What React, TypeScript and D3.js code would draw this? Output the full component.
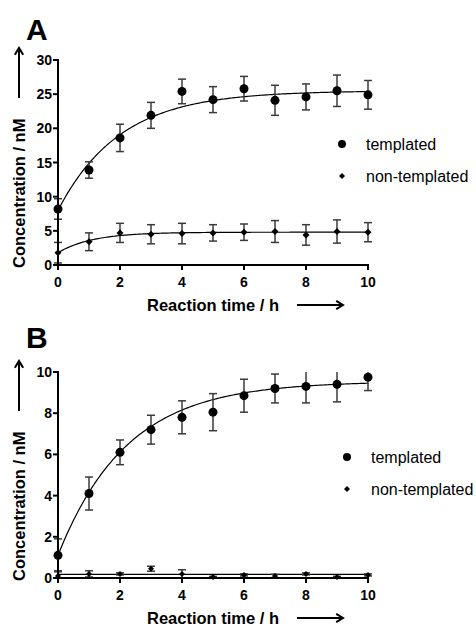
import React from "react";
import * as d3 from "d3";

// reaction time (h)
const times = [0, 1, 2, 3, 4, 5, 6, 7, 8, 9, 10];

// panel A
const templatedA = [8.2, 13.9, 18.6, 21.9, 25.4, 24.2, 25.8, 24.1, 24.6, 25.5, 24.9];
const templatedAErr = [1.5, 1.2, 2.0, 1.9, 1.8, 1.9, 1.8, 2.2, 1.9, 2.3, 2.1];
const nonTemplatedA = [1.8, 3.4, 4.7, 4.5, 4.6, 4.7, 4.8, 4.9, 4.4, 4.9, 4.8];
const nonTemplatedAErr = [1.5, 1.3, 1.4, 1.4, 1.5, 1.2, 1.2, 1.6, 1.5, 1.7, 1.4];

// panel B
const templatedB = [1.1, 4.1, 6.1, 7.2, 7.8, 8.05, 8.85, 9.2, 9.3, 9.4, 9.75];
const templatedBErr = [0.8, 0.8, 0.6, 0.7, 0.8, 0.9, 0.8, 0.7, 0.8, 0.85, 0.65];
const nonTemplatedB = [0.1, 0.2, 0.2, 0.45, 0.2, 0.05, 0.15, 0.1, 0.2, 0.05, 0.15];
const nonTemplatedBErr = [0.25, 0.15, 0.05, 0.12, 0.2, 0.03, 0.05, 0.08, 0.05, 0.03, 0.05];

// one-phase association fits: [y0, plateau, k]
const fitTemplatedA = [8.0, 25.5, 0.5];
const fitNonTemplatedA = [1.8, 4.8, 0.9];
const fitTemplatedB = [1.1, 9.55, 0.45];
const fitNonTemplatedB = [0.18, 0.18, 1];

const xTicks = [0, 2, 4, 6, 8, 10];
const yTicksA = [0, 5, 10, 15, 20, 25, 30];
const yTicksB = [0, 2, 4, 6, 8, 10];
const legendLabels = ["templated", "non-templated"];

const FONT = "Liberation Sans, Arial, Helvetica, sans-serif";

type PanelProps = {
  letter: string;
  letterY: number;
  top: number;
  bottom: number;
  yMax: number;
  yTicks: number[];
  series: { vals: number[]; err: number[]; fit: number[]; kind: string }[];
  legendX: number;
  legendY: number;
  diamond: number;
};

const Arrow = ({ x1, y1, x2, y2 }) => {
  const ang = Math.atan2(y2 - y1, x2 - x1);
  const h = 8;
  const a1 = ang + Math.PI - 0.55;
  const a2 = ang + Math.PI + 0.55;
  return (
    <g stroke="#000" strokeWidth={2} fill="none">
      <line x1={x1} y1={y1} x2={x2} y2={y2} />
      <polyline
        points={`${x2 + h * Math.cos(a1)},${y2 + h * Math.sin(a1)} ${x2},${y2} ${x2 + h * Math.cos(a2)},${y2 + h * Math.sin(a2)}`}
      />
    </g>
  );
};

const Panel = ({ letter, letterY, top, bottom, yMax, yTicks, series, legendX, legendY, diamond }: PanelProps) => {
  const x = d3.scaleLinear().domain([0, 10]).range([58, 368]);
  const y = d3.scaleLinear().domain([0, yMax]).range([bottom, top]);
  const clip = (v) => Math.max(0, Math.min(yMax, v));
  const fitLine = (p) =>
    d3
      .line<number>()
      .x((t) => x(t))
      .y((t) => y(p[0] + (p[1] - p[0]) * (1 - Math.exp(-p[2] * t))))(d3.range(0, 10.001, 0.05));
  const diamondPath = (cx, cy, s) => `M${cx},${cy - s}L${cx + s},${cy}L${cx},${cy + s}L${cx - s},${cy}Z`;

  return (
    <g>
      <text x={26} y={letterY} fontFamily={FONT} fontWeight="bold" fontSize={30}>
        {letter}
      </text>

      {series.map((s, si) => (
        <g key={si}>
          <path d={fitLine(s.fit)} fill="none" stroke="#000" strokeWidth={1.2} />
          {times.map((t, i) => {
            const lo = y(clip(s.vals[i] - s.err[i]));
            const hi = y(clip(s.vals[i] + s.err[i]));
            return (
              <g key={i} stroke="#3a3a3a" strokeWidth={1.5}>
                <line x1={x(t)} x2={x(t)} y1={lo} y2={hi} />
                {s.vals[i] + s.err[i] <= yMax && <line x1={x(t) - 4} x2={x(t) + 4} y1={hi} y2={hi} />}
                <line x1={x(t) - 4} x2={x(t) + 4} y1={lo} y2={lo} />
              </g>
            );
          })}
          {times.map((t, i) =>
            s.kind === "circle" ? (
              <circle key={"m" + i} cx={x(t)} cy={y(s.vals[i])} r={4.5} fill="#000" />
            ) : (
              <path key={"m" + i} d={diamondPath(x(t), y(s.vals[i]), diamond)} fill="#000" />
            )
          )}
        </g>
      ))}

      {/* axes */}
      <g stroke="#000" strokeWidth={2}>
        <line x1={x(0)} x2={x(0)} y1={y(yMax) - 1} y2={y(0) + 1} />
        <line x1={x(0) - 1} x2={x(10) + 1} y1={y(0)} y2={y(0)} />
        {yTicks.map((v) => (
          <line key={"yt" + v} x1={x(0) - 5} x2={x(0)} y1={y(v)} y2={y(v)} />
        ))}
        {xTicks.map((v) => (
          <line key={"xt" + v} x1={x(v)} x2={x(v)} y1={y(0)} y2={y(0) + 5} />
        ))}
      </g>
      {yTicks.map((v) => (
        <text key={"yl" + v} x={52} y={y(v) + 5} textAnchor="end" fontFamily={FONT} fontWeight="bold" fontSize={14}>
          {v}
        </text>
      ))}
      {xTicks.map((v) => (
        <text key={"xl" + v} x={x(v)} y={y(0) + 22} textAnchor="middle" fontFamily={FONT} fontWeight="bold" fontSize={14}>
          {v}
        </text>
      ))}

      {/* axis titles */}
      <text x={213} y={bottom + 46} textAnchor="middle" fontFamily={FONT} fontWeight="bold" fontSize={16.5}>
        Reaction time / h
      </text>
      <Arrow x1={297} y1={bottom + 40} x2={343} y2={bottom + 40} />
      <text
        transform={`translate(25,${bottom + 3}) rotate(-90)`}
        textAnchor="start"
        fontFamily={FONT}
        fontWeight="bold"
        fontSize={16.5}
      >
        Concentration / nM
      </text>
      <Arrow x1={19} y1={bottom - 167} x2={19} y2={bottom - 217} />

      {/* legend */}
      <circle cx={legendX} cy={legendY} r={4} fill="#000" />
      <path d={diamondPath(legendX, legendY + 32, 3)} fill="#000" />
      {legendLabels.map((l, i) => (
        <text key={l} x={legendX + 24} y={legendY + i * 32 + 5.5} fontFamily={FONT} fontSize={16}>
          {l}
        </text>
      ))}
    </g>
  );
};

export default function App() {
  return (
    <div style={{ position: "absolute", left: 0, top: 0 }}>
      <svg width={476} height={626} style={{ display: "block", background: "#fff" }}>
        <Panel
          letter="A"
          letterY={40}
          top={60}
          bottom={265}
          yMax={30}
          yTicks={yTicksA}
          series={[
            { vals: templatedA, err: templatedAErr, fit: fitTemplatedA, kind: "circle" },
            { vals: nonTemplatedA, err: nonTemplatedAErr, fit: fitNonTemplatedA, kind: "diamond" },
          ]}
          legendX={342}
          legendY={144}
          diamond={3.5}
        />
        <Panel
          letter="B"
          letterY={348}
          top={372}
          bottom={578}
          yMax={10}
          yTicks={yTicksB}
          series={[
            { vals: templatedB, err: templatedBErr, fit: fitTemplatedB, kind: "circle" },
            { vals: nonTemplatedB, err: nonTemplatedBErr, fit: fitNonTemplatedB, kind: "diamond" },
          ]}
          legendX={347}
          legendY={457}
          diamond={3}
        />
      </svg>
    </div>
  );
}
